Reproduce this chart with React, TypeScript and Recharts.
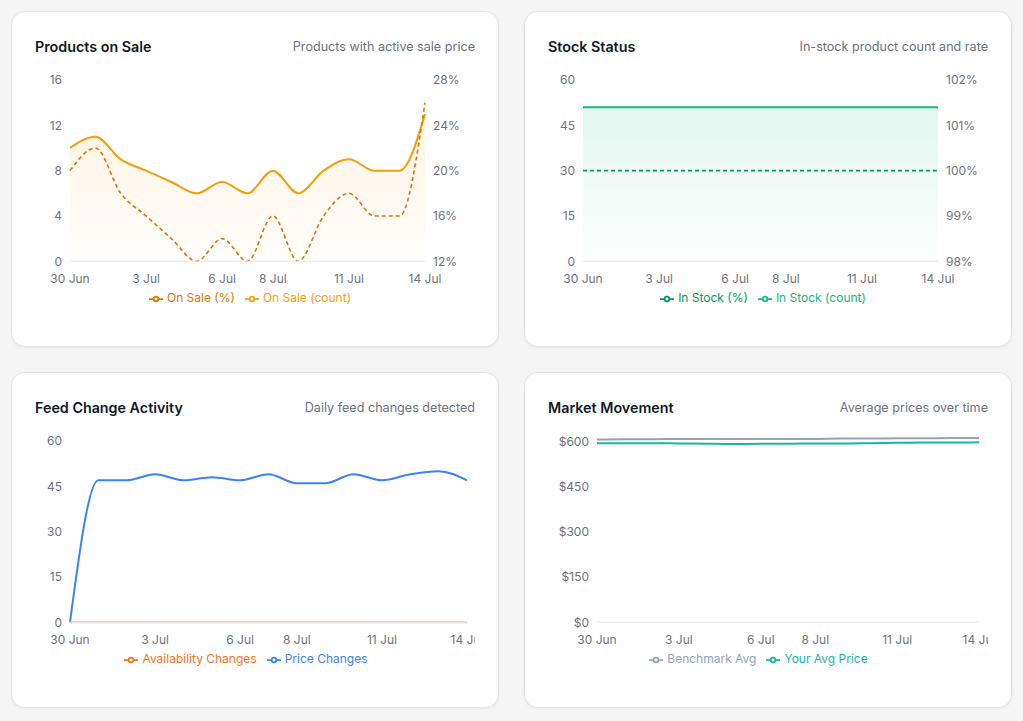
import React from 'react';
import {
  ComposedChart,
  LineChart,
  Line,
  Area,
  XAxis,
  YAxis,
  Legend,
} from 'recharts';

const dates = [
  '30 Jun', '1 Jul', '2 Jul', '3 Jul', '4 Jul', '5 Jul', '6 Jul', '7 Jul',
  '8 Jul', '9 Jul', '10 Jul', '11 Jul', '12 Jul', '13 Jul', '14 Jul',
];
const dateTicks = ['30 Jun', '3 Jul', '6 Jul', '8 Jul', '11 Jul', '14 Jul'];

// Products on sale
const onSaleCount = [10, 11, 9, 8, 7, 6, 7, 6, 8, 6, 8, 9, 8, 8, 13];
const onSalePct = [20, 22, 18, 16, 14, 12, 14, 12, 16, 12, 16, 18, 16, 16, 26];
const onSaleCountTicks = [0, 4, 8, 12, 16];
const onSalePctTicks = [12, 16, 20, 24, 28];

// Stock status
const inStockCount = [51, 51, 51, 51, 51, 51, 51, 51, 51, 51, 51, 51, 51, 51, 51];
const inStockPct = [100, 100, 100, 100, 100, 100, 100, 100, 100, 100, 100, 100, 100, 100, 100];
const inStockCountTicks = [0, 15, 30, 45, 60];
const inStockPctTicks = [98, 99, 100, 101, 102];

// Feed changes
const availabilityChanges = [0, 0, 0, 0, 0, 0, 0, 0, 0, 0, 0, 0, 0, 0, 0];
const priceChanges = [0, 47, 47, 49, 47, 48, 47, 49, 46, 46, 49, 47, 49, 50, 47];
const feedTicks = [0, 15, 30, 45, 60];

// Market movement
const benchmarkAvg = [606, 607, 607, 608, 608, 608, 608, 608, 608, 609, 609, 610, 610, 611, 611];
const yourAvgPrice = [594, 594, 594, 593, 592, 591, 592, 592, 593, 593, 594, 595, 596, 596, 597];
const priceTicks = [0, 150, 300, 450, 600];

const saleData = dates.map((date, i) => ({ date, count: onSaleCount[i], pct: onSalePct[i] }));
const stockData = dates.map((date, i) => ({ date, count: inStockCount[i], pct: inStockPct[i] }));
const feedData = dates.map((date, i) => ({
  date,
  availability: availabilityChanges[i],
  price: priceChanges[i],
}));
const marketData = dates.map((date, i) => ({
  date,
  benchmark: benchmarkAvg[i],
  yours: yourAvgPrice[i],
}));

const FONT = 'Inter, "Noto Sans", sans-serif';
const tick = { fontSize: 12, fill: '#6b7280', fontFamily: FONT };
const xTick = { ...tick, dy: 5 };
const CHART_W = 440;
const CHART_H = 236;

const legendStyle = { fontSize: 12, fontFamily: FONT };

function Card({ title, subtitle, children }: { title: string; subtitle: string; children: React.ReactNode }) {
  return (
    <div
      style={{
        boxSizing: 'border-box',
        width: 488,
        height: 336,
        background: '#fff',
        border: '1px solid #e4e4e7',
        borderRadius: 14,
        boxShadow: '0 1px 3px rgba(0,0,0,0.06)',
        padding: 23,
      }}
    >
      <div
        style={{
          display: 'flex',
          justifyContent: 'space-between',
          alignItems: 'center',
          height: 22,
          marginBottom: 13,
        }}
      >
        <span style={{ fontSize: 14.3, fontWeight: 600, color: '#111827' }}>{title}</span>
        <span style={{ fontSize: 12.6, color: '#6b7280' }}>{subtitle}</span>
      </div>
      {children}
    </div>
  );
}

function xAxis() {
  return (
    <XAxis
      dataKey="date"
      ticks={dateTicks}
      interval={0}
      tickLine={false}
      axisLine={{ stroke: '#e5e7eb' }}
      tick={xTick}
      height={29}
    />
  );
}

export default function App() {
  return (
    <div
      style={{
        fontFamily: FONT,
        background: '#f5f5f6',
        width: 1023,
        height: 721,
        padding: 11,
        boxSizing: 'border-box',
      }}
    >
      <style>{'body{margin:0;background:#f5f5f6}'}</style>
      <div style={{ display: 'grid', gridTemplateColumns: '488px 488px', columnGap: 25, rowGap: 25 }}>
        <Card title="Products on Sale" subtitle="Products with active sale price">
          <ComposedChart width={CHART_W} height={CHART_H} data={saleData} margin={{ top: 10, right: 0, left: 0, bottom: 0 }}>
            <defs>
              <linearGradient id="saleFill" x1="0" y1="0" x2="0" y2="1">
                <stop offset="0%" stopColor="#f59e0b" stopOpacity={0.2} />
                <stop offset="100%" stopColor="#f59e0b" stopOpacity={0.02} />
              </linearGradient>
            </defs>
            {xAxis()}
            <YAxis yAxisId="count" width={35} domain={[0, 16]} ticks={onSaleCountTicks} axisLine={false} tickLine={false} tick={tick} />
            <YAxis yAxisId="pct" orientation="right" width={50} domain={[12, 28]} ticks={onSalePctTicks} axisLine={false} tickLine={false} tick={tick} tickFormatter={(v) => `${v}%`} />
            <Area yAxisId="count" type="monotone" dataKey="count" name="On Sale (count)" stroke="#f59e0b" strokeWidth={2} fill="url(#saleFill)" dot={false} activeDot={false} isAnimationActive={false} />
            <Line yAxisId="pct" type="monotone" dataKey="pct" name="On Sale (%)" stroke="#d97706" strokeWidth={1.6} strokeDasharray="4 3" dot={false} activeDot={false} isAnimationActive={false} />
            <Legend wrapperStyle={legendStyle} />
          </ComposedChart>
        </Card>

        <Card title="Stock Status" subtitle="In-stock product count and rate">
          <ComposedChart width={CHART_W} height={CHART_H} data={stockData} margin={{ top: 10, right: 0, left: 0, bottom: 0 }}>
            <defs>
              <linearGradient id="stockFill" x1="0" y1="0" x2="0" y2="1">
                <stop offset="0%" stopColor="#10b981" stopOpacity={0.2} />
                <stop offset="100%" stopColor="#10b981" stopOpacity={0.02} />
              </linearGradient>
            </defs>
            {xAxis()}
            <YAxis yAxisId="count" width={35} domain={[0, 60]} ticks={inStockCountTicks} axisLine={false} tickLine={false} tick={tick} />
            <YAxis yAxisId="pct" orientation="right" width={50} domain={[98, 102]} ticks={inStockPctTicks} axisLine={false} tickLine={false} tick={tick} tickFormatter={(v) => `${v}%`} />
            <Area yAxisId="count" type="monotone" dataKey="count" name="In Stock (count)" stroke="#10b981" strokeWidth={2} fill="url(#stockFill)" dot={false} activeDot={false} isAnimationActive={false} />
            <Line yAxisId="pct" type="monotone" dataKey="pct" name="In Stock (%)" stroke="#059669" strokeWidth={1.8} strokeDasharray="4 3" dot={false} activeDot={false} isAnimationActive={false} />
            <Legend wrapperStyle={legendStyle} />
          </ComposedChart>
        </Card>

        <Card title="Feed Change Activity" subtitle="Daily feed changes detected">
          <LineChart width={CHART_W} height={CHART_H} data={feedData} margin={{ top: 10, right: 8, left: 0, bottom: 0 }}>
            {xAxis()}
            <YAxis width={35} domain={[0, 60]} ticks={feedTicks} axisLine={false} tickLine={false} tick={tick} />
            <Line type="monotone" dataKey="availability" name="Availability Changes" stroke="#f97316" strokeOpacity={0.45} strokeWidth={2} dot={false} activeDot={false} isAnimationActive={false} />
            <Line type="monotone" dataKey="price" name="Price Changes" stroke="#3b82f6" strokeWidth={2} dot={false} activeDot={false} isAnimationActive={false} />
            <Legend wrapperStyle={legendStyle} />
          </LineChart>
        </Card>

        <Card title="Market Movement" subtitle="Average prices over time">
          <LineChart width={CHART_W} height={CHART_H} data={marketData} margin={{ top: 7, right: 9, left: 0, bottom: 0 }}>
            {xAxis()}
            <YAxis width={49} domain={[0, 'dataMax']} ticks={priceTicks} axisLine={false} tickLine={false} tick={tick} tickFormatter={(v) => `$${v}`} />
            <Line type="monotone" dataKey="benchmark" name="Benchmark Avg" stroke="#94a3b8" strokeWidth={2} dot={false} activeDot={false} isAnimationActive={false} />
            <Line type="monotone" dataKey="yours" name="Your Avg Price" stroke="#14b8a6" strokeWidth={2} dot={false} activeDot={false} isAnimationActive={false} />
            <Legend wrapperStyle={legendStyle} />
          </LineChart>
        </Card>
      </div>
    </div>
  );
}
